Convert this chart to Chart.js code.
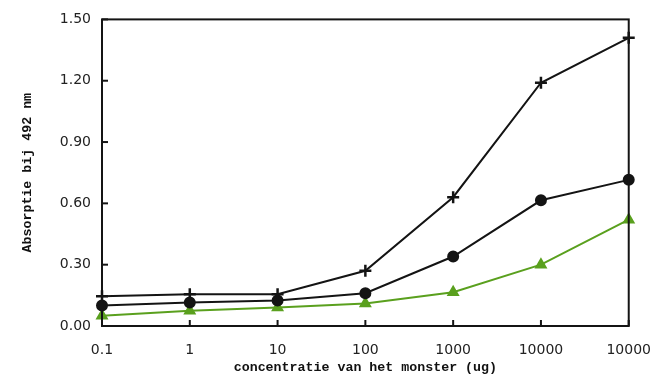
<!DOCTYPE html>
<html>
<head>
<meta charset="utf-8">
<script src="https://cdn.jsdelivr.net/npm/chart.js@4/dist/chart.umd.min.js"></script>
<style>
  html, body { margin: 0; padding: 0; background: #fff; }
  #wrap { width: 659px; height: 376px; }
</style>
</head>
<body>
<div id="wrap"><canvas id="grafiek"></canvas></div>
<script>
var xLabels = ["0.1", "1", "10", "100", "1000", "10000", "10000"];
var plusValues = [0.145, 0.155, 0.155, 0.27, 0.63, 1.19, 1.41];
var dotValues = [0.10, 0.115, 0.125, 0.16, 0.34, 0.615, 0.715];
var triValues = [0.05, 0.075, 0.09, 0.11, 0.165, 0.30, 0.52];

var black = "#141414";
var green = "#5aa01e";

// kader + ticks naar binnen
var kader = {
  id: "kader",
  afterDraw: function (chart) {
    var ctx = chart.ctx, a = chart.chartArea;
    ctx.save();
    ctx.strokeStyle = black;
    ctx.lineWidth = 2;
    ctx.strokeRect(a.left, a.top, a.right - a.left, a.bottom - a.top);
    var y = chart.scales.y, x = chart.scales.x;
    y.ticks.forEach(function (t) {
      var py = y.getPixelForValue(t.value);
      ctx.beginPath(); ctx.moveTo(a.left, py); ctx.lineTo(a.left + 6, py); ctx.stroke();
    });
    x.ticks.forEach(function (t, i) {
      var px = x.getPixelForTick(i);
      ctx.beginPath(); ctx.moveTo(px, a.bottom); ctx.lineTo(px, a.bottom - 6); ctx.stroke();
    });
    ctx.restore();
  }
};

new Chart("grafiek", {
  type: "line",
  data: {
    labels: xLabels,
    datasets: [{
      data: plusValues,
      borderColor: black,
      backgroundColor: black,
      borderWidth: 2,
      pointStyle: "cross",
      pointRadius: 6,
      pointBorderWidth: 2.5,
      tension: 0
    }, {
      data: dotValues,
      borderColor: black,
      backgroundColor: black,
      borderWidth: 2,
      pointStyle: "circle",
      pointRadius: 5,
      tension: 0
    }, {
      data: triValues,
      borderColor: green,
      backgroundColor: green,
      borderWidth: 2,
      pointStyle: "triangle",
      pointRadius: 5.5,
      tension: 0
    }]
  },
  options: {
    responsive: true,
    maintainAspectRatio: false,
    animation: false,
    layout: { padding: { top: 19, right: 30, left: 0, bottom: 0 } },
    plugins: {
      legend: { display: false },
      tooltip: { enabled: false }
    },
    scales: {
      x: {
        type: "category",
        offset: false,
        grid: { display: false },
        border: { display: false },
        ticks: {
          color: "#222",
          font: { family: "DejaVu Sans", size: 14 },
          padding: 8,
          maxRotation: 0
        },
        title: {
          display: true,
          text: "concentratie van het monster (ug)",
          color: "#111",
          font: { family: "Liberation Mono", size: 13.3, weight: "bold" },
          padding: { top: 2, bottom: 0 }
        },
        afterFit: function (s) { s.height = 50; }
      },
      y: {
        min: 0,
        max: 1.5,
        grid: { display: false, drawTicks: false },
        border: { display: false },
        ticks: {
          stepSize: 0.3,
          color: "#222",
          font: { family: "DejaVu Sans", size: 14 },
          padding: 11,
          callback: function (v) { return Number(v).toFixed(2); }
        },
        title: {
          display: true,
          text: "Absorptie bij 492 nm",
          color: "#111",
          font: { family: "Liberation Mono", size: 13.3, weight: "bold" },
          padding: { top: 20, bottom: 0 }
        },
        afterFit: function (s) { s.width = 102; }
      }
    }
  },
  plugins: [kader]
});
</script>
</body>
</html>
